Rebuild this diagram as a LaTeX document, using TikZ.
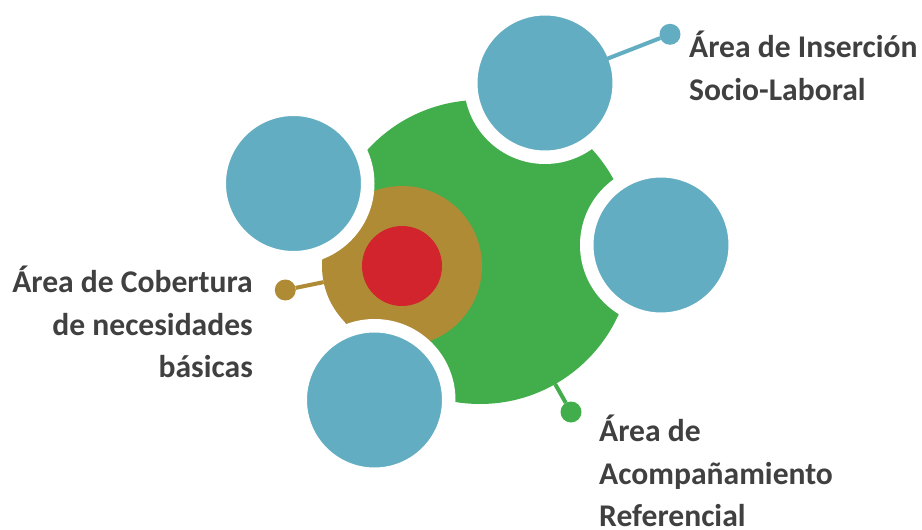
\documentclass[tikz,border=0pt]{standalone}
\usepackage{fontspec}
\setmainfont{Carlito}
\usepackage{tikz}
\usetikzlibrary{positioning}

\definecolor{areaBlue}{HTML}{62ADC1}
\definecolor{areaGreen}{HTML}{41AE4B}
\definecolor{areaBrown}{HTML}{AF8B36}
\definecolor{areaRed}{HTML}{D1242C}
\definecolor{labelGray}{HTML}{404040}

\tikzset{
  disc/.style={circle, inner sep=0pt, outer sep=0pt, fill=#1},
  satellite/.style={disc=areaBlue, draw=white, line width=13.5pt, minimum size=148.5pt},
  enddot/.style={disc=#1, minimum size=21pt},
  link/.style={line width=4pt, draw=#1},
  arealabel/.style={inner sep=0pt, text=labelGray, font=\fontsize{31.6}{42.5}\selectfont\bfseries},
}

\begin{document}
\begin{tikzpicture}[x=1pt, y=-1pt]
  \useasboundingbox (0,0) rectangle (922,530);

  % Draw the core circles
  \node[disc=areaGreen, minimum size=304pt] (acompanamiento) at (480,252) {};
  \node[disc=areaBrown, minimum size=160pt] (cobertura) at (402,266) {};
  \node[disc=areaRed, minimum size=80pt] (nucleo) at (402,266) {};

  % Draw the four blue circles with their white rims
  \node[satellite] (insercion) at (545,83) {};
  \node[satellite] (satLeft) at (293.5,183.5) {};
  \node[satellite] (satRight) at (661,245) {};
  \node[satellite] (satBottom) at (374.5,400) {};

  % Draw the end dots
  \node[enddot=areaBlue] (dotInsercion) at (670,34.3) {};
  \node[enddot=areaBrown] (dotCobertura) at (285.3,290) {};
  \node[enddot=areaGreen] (dotAcomp) at (571,412) {};

  % Draw the connectors
  \draw[link=areaBlue] (insercion.center) -- (dotInsercion);
  \draw[link=areaBrown] (cobertura) -- (dotCobertura);
  \draw[link=areaGreen] (acompanamiento) -- (dotAcomp);

  % Labels (anchored at the baseline of their last line)
  \node[arealabel, anchor=base west, align=left] (labInsercion) at (689,100)
    {Área de Inserción\\Socio-Laboral};
  \node[arealabel, anchor=base east, align=right] (labCobertura) at (253,377.7)
    {Área de Cobertura\\de necesidades\\básicas};
  \node[arealabel, anchor=base west, align=left] (labAcomp) at (599,526.7)
    {Área de\\Acompañamiento\\Referencial};

\end{tikzpicture}
\end{document}
